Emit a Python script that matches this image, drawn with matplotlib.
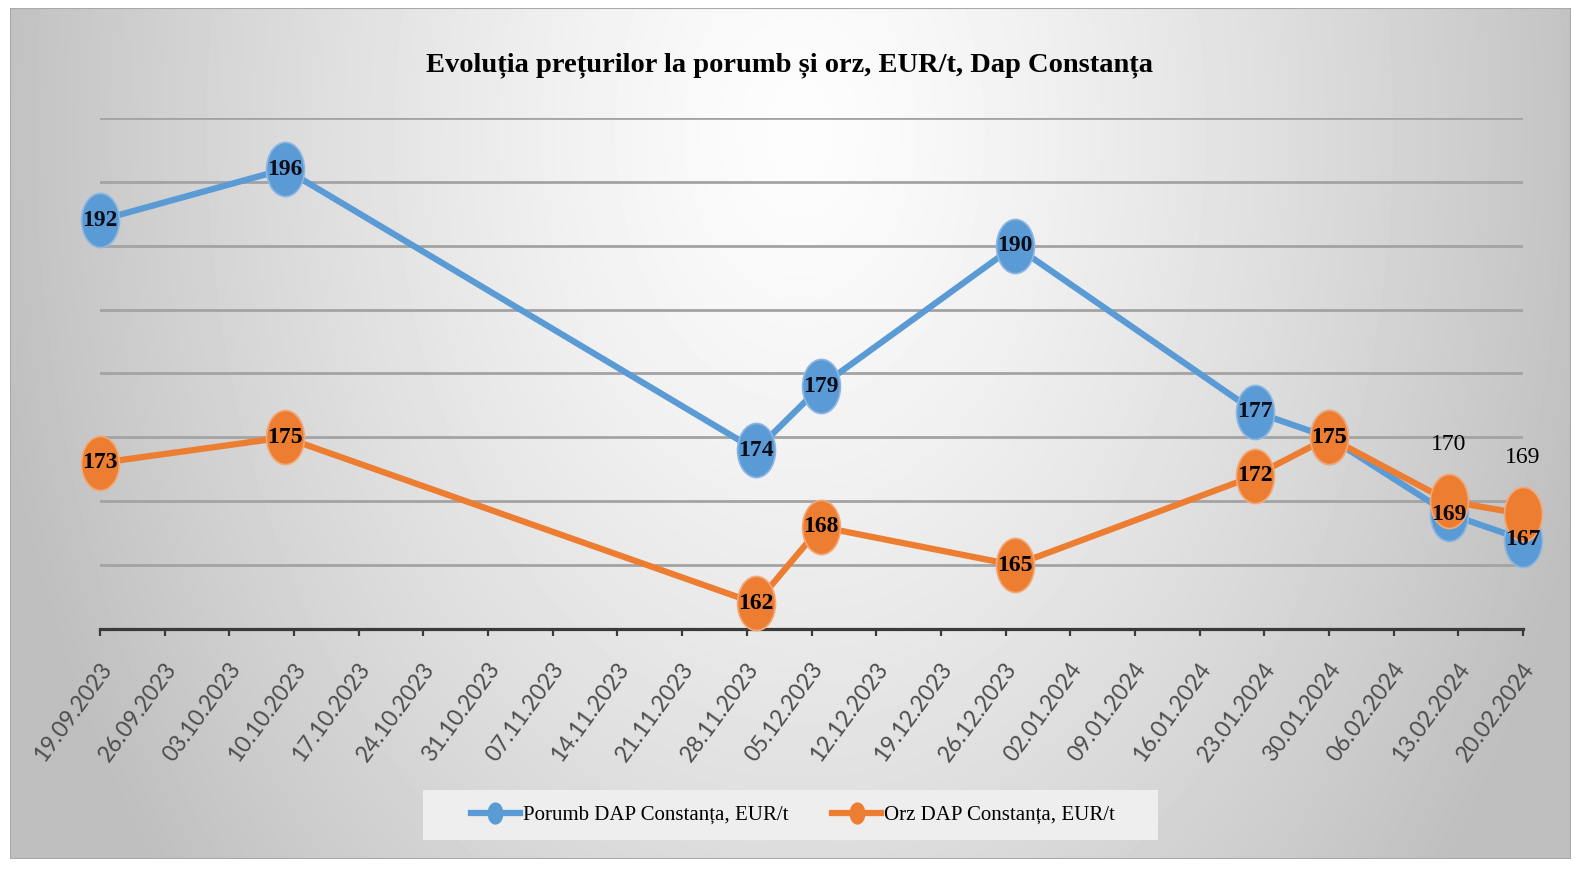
import numpy as np
import pandas as pd
import matplotlib
matplotlib.use("Agg")
import matplotlib.pyplot as plt
import matplotlib.dates as mdates
import matplotlib.transforms as mtransforms
from matplotlib.lines import Line2D
from matplotlib.patches import Rectangle
from matplotlib.path import Path

# data
dates = ["2023-09-19", "2023-10-09", "2023-11-29", "2023-12-06", "2023-12-27",
         "2024-01-22", "2024-01-30", "2024-02-12", "2024-02-20"]
porumb = [192, 196, 174, 179, 190, 177, 175, 169, 167]
orz = [173, 175, 162, 168, 165, 172, 175, 170, 169]

series_names = ["Porumb DAP Constanța, EUR/t", "Orz DAP Constanța, EUR/t"]
title = "Evoluția prețurilor la porumb și orz, EUR/t, Dap Constanța"

BLUE = "#5B9BD5"
ORANGE = "#ED7D31"

W, H = 1588, 876
SERIF = "Liberation Serif"

x = pd.to_datetime(dates)
ticks = pd.date_range("2023-09-19", "2024-02-20", freq="7D")

fig = plt.figure(figsize=(W / 100, H / 100), dpi=100)
fig.patch.set_facecolor("white")

# background with soft radial gradient
x0, x1, y0, y1 = 10, 1571, 8, 859
bg = fig.add_axes([x0 / W, 1 - y1 / H, (x1 - x0) / W, (y1 - y0) / H])
bg.set_zorder(-1)
gx, gy = np.meshgrid(np.linspace(x0, x1, 400), np.linspace(y0, y1, 220))
r = np.sqrt(((gx - 800) / 820) ** 2 + ((gy - 130) / 1200) ** 2)
shade = 253 - 62 * np.clip(r, 0, 1) ** 1.3
bg.imshow(shade, cmap="gray", vmin=0, vmax=255, aspect="auto",
          extent=[0, 1, 0, 1], origin="upper", interpolation="bilinear")
bg.add_patch(Rectangle((0, 0), 1, 1, transform=bg.transAxes, fill=False,
                       ec="#a9a9a9", lw=1.5))
bg.set_xlim(0, 1)
bg.set_ylim(0, 1)
bg.axis("off")

# plot area
ax = fig.add_axes([100 / W, 1 - 629 / H, (1523 - 100) / W, (629 - 118) / H])
ax.set_zorder(1)
ax.set_facecolor("none")
ax.set_xlim(ticks[0], ticks[-1])
ax.set_ylim(160, 200)
ax.set_yticks(np.arange(160, 201, 5))
ax.yaxis.grid(True, color="#a3a3a3", lw=2.0)
ax.tick_params(axis="y", left=False, labelleft=False)
for side in ("left", "right", "top"):
    ax.spines[side].set_visible(False)
ax.spines["bottom"].set_color("#3a3a3a")
ax.spines["bottom"].set_linewidth(2.3)
ax.set_axisbelow(True)

ax.set_xticks(ticks)
ax.xaxis.set_major_formatter(mdates.DateFormatter("%d.%m.%Y"))
ax.tick_params(axis="x", direction="out", length=5, width=1.6, color="#3a3a3a",
               pad=21, labelsize=16.5, labelcolor="#4d4d4d")
shift = mtransforms.ScaledTranslation(7 / 100, 0, fig.dpi_scale_trans)
for lab in ax.get_xticklabels():
    lab.set_rotation(54)
    lab.set_ha("right")
    lab.set_va("center")
    lab.set_rotation_mode("anchor")
    lab.set_fontfamily("Lato")
    lab.set_transform(lab.get_transform() + shift)

# tall ellipse marker
circ = Path.unit_circle()
ell = Path(circ.vertices * np.array([0.7, 1.0]), circ.codes)

ax.plot(x, porumb, color=BLUE, lw=4.5, marker=ell, markersize=39,
        markerfacecolor=BLUE, markeredgecolor="#8db6e2", markeredgewidth=1.2,
        zorder=3, solid_capstyle="round", clip_on=False)
ax.plot(x, orz, color=ORANGE, lw=4.5, marker=ell, markersize=39,
        markerfacecolor=ORANGE, markeredgecolor="#f3a878", markeredgewidth=1.2,
        zorder=4, solid_capstyle="round", clip_on=False)

for d, v in zip(x, porumb):
    ax.annotate(str(v), (d, v), ha="center", va="center", fontsize=17,
                fontweight="bold", family=SERIF, color="#0d0d1a", zorder=6,
                annotation_clip=False)
for i, (d, v) in enumerate(zip(x, orz)):
    if i >= len(orz) - 2:
        ax.annotate(str(v), (d, v), xytext=(0, 41), textcoords="offset points",
                    ha="center", va="center", fontsize=17, family=SERIF,
                    color="black", zorder=6, annotation_clip=False)
    else:
        ax.annotate(str(v), (d, v), ha="center", va="center", fontsize=17,
                    fontweight="bold", family=SERIF, color="black", zorder=6,
                    annotation_clip=False)

fig.text(790 / W, 1 - 71 / H, title, ha="center", va="baseline",
         fontsize=20.5, fontweight="bold", family=SERIF, color="black")

# legend
fig.patches.append(Rectangle((423 / W, 1 - 840 / H), 735 / W, 50 / H,
                             transform=fig.transFigure, fc="#eeeeee", ec="none",
                             zorder=0.5))
handles = [
    Line2D([], [], color=BLUE, lw=4.5, marker=ell, markersize=15),
    Line2D([], [], color=ORANGE, lw=4.5, marker=ell, markersize=15),
]
fig.legend(handles, series_names, loc="center", ncol=2, frameon=False,
           bbox_to_anchor=(793 / W, 1 - 815 / H),
           prop={"family": SERIF, "size": 15},
           handlelength=2.35, handletextpad=0.15, columnspacing=2.1)

fig.savefig("out.png", dpi=100)
